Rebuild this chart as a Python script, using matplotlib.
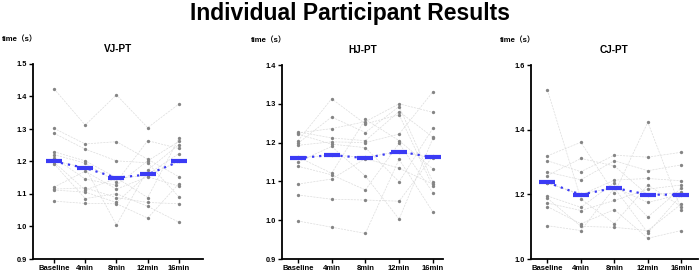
import numpy as np
import matplotlib
matplotlib.use("Agg")
import matplotlib.pyplot as plt

plt.rcParams['font.family'] = ['Liberation Sans', 'Noto Sans CJK SC', 'DejaVu Sans']

times = ["Baseline", "4min", "8min", "12min", "16min"]

# VJ-PT  (one entry per participant, same order in every list)
vj_base = [1.424, 1.302, 1.287, 1.230, 1.221, 1.212, 1.202, 1.193, 1.121, 1.115, 1.112, 1.078, 1.198]
vj_4 = [1.312, 1.254, 1.238, 1.202, 1.195, 1.146, 1.181, 1.086, 1.170, 1.119, 1.106, 1.071, 1.112]
vj_8 = [1.405, 1.261, 1.202, 1.150, 1.137, 1.127, 1.005, 1.101, 1.115, 1.089, 1.074, 1.070, 1.148]
vj_12 = [1.304, 1.207, 1.196, 1.089, 1.264, 1.202, 1.174, 1.062, 1.153, 1.074, 1.161, 1.026, 1.158]
vj_16 = [1.377, 1.153, 1.091, 1.271, 1.240, 1.262, 1.252, 1.013, 1.124, 1.070, 1.224, 1.132, 1.200]
vj_mean = [1.200, 1.180, 1.150, 1.160, 1.200]

# HJ-PT
hj_base = [1.228, 1.225, 1.222, 1.204, 1.198, 1.193, 1.163, 1.150, 1.139, 1.093, 1.065, 0.998, 1.160]
hj_4 = [1.212, 1.236, 1.196, 1.313, 1.266, 1.202, 1.121, 1.190, 1.117, 1.106, 1.054, 0.982, 1.168]
hj_8 = [1.205, 1.254, 1.187, 1.248, 1.226, 1.200, 1.260, 1.114, 1.078, 1.159, 1.052, 0.966, 1.162]
hj_12 = [1.280, 1.300, 1.099, 1.272, 1.293, 1.222, 1.205, 1.003, 1.198, 1.134, 1.049, 1.157, 1.177]
hj_16 = [1.214, 1.278, 1.237, 1.087, 1.099, 1.331, 1.132, 1.211, 1.071, 1.093, 1.165, 1.021, 1.160]
hj_mean = [1.160, 1.168, 1.160, 1.177, 1.162]

# CJ-PT
cj_base = [1.523, 1.319, 1.304, 1.269, 1.258, 1.235, 1.195, 1.188, 1.173, 1.162, 1.103, 1.236]
cj_4 = [1.186, 1.361, 1.270, 1.245, 1.311, 1.198, 1.160, 1.101, 1.150, 1.109, 1.088, 1.200]
cj_8 = [1.109, 1.203, 1.321, 1.304, 1.288, 1.244, 1.236, 1.098, 1.181, 1.153, 1.220, 1.222]
cj_12 = [1.229, 1.423, 1.315, 1.273, 1.198, 1.249, 1.130, 1.088, 1.216, 1.064, 1.081, 1.175]
cj_16 = [1.162, 1.153, 1.330, 1.291, 1.206, 1.242, 1.219, 1.170, 1.229, 1.088, 1.198, 1.200]
cj_mean = [1.237, 1.199, 1.220, 1.199, 1.199]

BLUE = "#3b3bf5"


def plot_panel(fig, rect, title, cols, means, ylim, yticks, xlim):
    ax = fig.add_axes(rect)
    data = np.array(cols).T  # participants x time
    x = np.arange(len(times))
    for row in data:
        ax.plot(x, row, color="#dcdcdc", lw=0.5, ls=(0, (3, 1.5)), zorder=1)
    for i in range(len(times)):
        ax.plot(np.full(data.shape[0], x[i]), data[:, i], "o", color="#858585",
                ms=2.4, mew=0, zorder=2)
    ax.plot(x, means, ls=(0, (1, 2.2)), color=BLUE, lw=1.6, zorder=3)
    ax.plot(x, means, "_", color=BLUE, ms=12, mew=3, zorder=4)

    ax.set_xlim(*xlim)
    ax.set_ylim(*ylim)
    ax.set_yticks(yticks)
    ax.set_yticklabels([f"{v:.1f}" for v in yticks], fontsize=5.3, fontweight="bold")
    ax.set_xticks(x)
    ax.set_xticklabels(times, fontsize=5.5, fontweight="bold")
    ax.tick_params(length=3, width=1, pad=1.5)
    for s in ["top", "right"]:
        ax.spines[s].set_visible(False)
    for s in ["left", "bottom"]:
        ax.spines[s].set_linewidth(1.3)
    ax.text(0.5, 1.077, title, transform=ax.transAxes, ha="center", va="center",
            fontsize=7.2, fontweight="bold")
    # y-axis unit sits ~31 px left of the spine, above the plot
    ax.text(-31 / (rect[2] * 700), 1.128, "time（s）", transform=ax.transAxes,
            ha="left", va="center", fontsize=5.6, fontweight="bold")
    return ax


def main():
    fig = plt.figure(figsize=(7, 2.73), dpi=100)
    fig.text(0.5, 0.952, "Individual Participant Results", ha="center", va="center",
             fontsize=16.5, fontweight="bold")

    plot_panel(fig, [33 / 700, 14 / 273, 170 / 700, 195 / 273], "VJ-PT",
               [vj_base, vj_4, vj_8, vj_12, vj_16], vj_mean,
               (0.9, 1.5), np.arange(0.9, 1.51, 0.1), (-0.67, 4.77))
    plot_panel(fig, [282 / 700, 14 / 273, 161 / 700, 194 / 273], "HJ-PT",
               [hj_base, hj_4, hj_8, hj_12, hj_16], hj_mean,
               (0.9, 1.4), np.arange(0.9, 1.41, 0.1), (-0.47, 4.30))
    plot_panel(fig, [531 / 700, 14 / 273, 167 / 700, 194 / 273], "CJ-PT",
               [cj_base, cj_4, cj_8, cj_12, cj_16], cj_mean,
               (1.0, 1.6), np.arange(1.0, 1.61, 0.2), (-0.49, 4.5))

    fig.savefig("out.png", dpi=100)


if __name__ == "__main__":
    main()
